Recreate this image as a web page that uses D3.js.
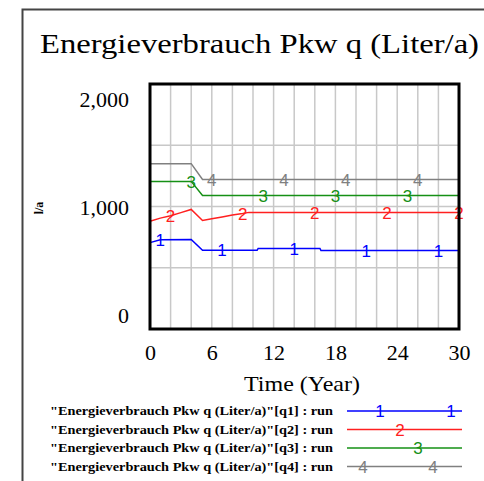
<!DOCTYPE html>
<html>
<head>
<meta charset="utf-8">
<script src="https://cdn.jsdelivr.net/npm/d3@7"></script>
<style>
  body { margin: 0; background: #fff; }
  svg { display: block; }
</style>
</head>
<body>
<div class="chart"></div>
<script>
// time breakpoints and values (l/a)
var q1Time = [0, 1, 4, 5.1, 10.4, 10.5, 16.5, 16.6, 30];
var q1Vals = [705, 728, 730, 642, 642, 658, 658, 640, 640];
var q2Time = [0, 1, 2, 3, 4, 5.1, 6, 7, 8, 9, 9.6, 30];
var q2Vals = [880, 905, 925, 950, 976, 886, 900, 915, 930, 943, 952, 952];
var q3Time = [0, 4, 5.1, 30];
var q3Vals = [1205, 1205, 1090, 1090];
var q4Time = [0, 4, 5.1, 30];
var q4Vals = [1350, 1350, 1220, 1220];

// where the series numbers sit along each line
var q1Marks = [1, 7, 14, 21, 28];
var q2Marks = [2, 9, 16, 23, 30];
var q3Marks = [4, 11, 18, 25];
var q4Marks = [6, 13, 19, 26];

var seriesNames = ["q1", "q2", "q3", "q4"];
var seriesColors = ["#0000ff", "#ff2020", "#159015", "#808080"];

var xGrid = [2, 4, 6, 8, 10, 12, 14, 16, 18, 20, 22, 24, 26, 28];
var xLabels = [0, 6, 12, 18, 24, 30];
var yGrid = [500, 1000, 1500];
var yLabels = [0, 1000, 2000];

(function () {
    var series = [
        {name: "q1", time: q1Time, vals: q1Vals, marks: q1Marks},
        {name: "q2", time: q2Time, vals: q2Vals, marks: q2Marks},
        {name: "q3", time: q3Time, vals: q3Vals, marks: q3Marks},
        {name: "q4", time: q4Time, vals: q4Vals, marks: q4Marks}
    ];

    var W = 484, H = 481;
    var pl = 150, pr = 459, pt = 84, pb = 329;
    var serif = "'Liberation Serif', 'Times New Roman', serif";
    var sans = "'Liberation Sans', Arial, sans-serif";

    var x = d3.scaleLinear().domain([0, 30]).range([pl, pr]);
    var y = d3.scaleLinear().domain([0, 2000]).range([pb, pt]);
    var color = d3.scaleOrdinal().domain(seriesNames).range(seriesColors);

    var svg = d3.select(".chart").append("svg")
        .attr("width", W)
        .attr("height", H);

    svg.append("rect").attr("width", W).attr("height", H).attr("fill", "#fff");

    // outer frame (runs off the right and bottom)
    svg.append("rect")
        .attr("x", 22.5).attr("y", 9.5)
        .attr("width", 520).attr("height", 520)
        .attr("fill", "none")
        .attr("stroke", "#444")
        .attr("stroke-width", 2);

    svg.append("text")
        .attr("x", 40).attr("y", 53)
        .attr("font-family", serif)
        .attr("font-size", 28)
        .attr("textLength", 439)
        .attr("lengthAdjust", "spacingAndGlyphs")
        .text("Energieverbrauch Pkw q (Liter/a)");

    // grid
    var grid = svg.append("g").attr("stroke", "#c8c8c8").attr("stroke-width", 1.5);
    grid.selectAll("line.vx")
        .data(xGrid).enter().append("line")
        .attr("x1", function (d) { return x(d); })
        .attr("x2", function (d) { return x(d); })
        .attr("y1", pt).attr("y2", pb);
    grid.selectAll("line.hy")
        .data(yGrid).enter().append("line")
        .attr("y1", function (d) { return y(d); })
        .attr("y2", function (d) { return y(d); })
        .attr("x1", pl).attr("x2", pr);

    // series lines
    var line = d3.line()
        .x(function (d) { return x(d[0]); })
        .y(function (d) { return y(d[1]); });

    function valueAt(s, t) {
        for (var i = 1; i < s.time.length; i++) {
            if (t <= s.time[i]) {
                var k = (t - s.time[i - 1]) / (s.time[i] - s.time[i - 1]);
                return s.vals[i - 1] + k * (s.vals[i] - s.vals[i - 1]);
            }
        }
        return s.vals[s.vals.length - 1];
    }

    series.forEach(function (s) {
        svg.append("path")
            .datum(d3.zip(s.time, s.vals))
            .attr("d", line)
            .attr("fill", "none")
            .attr("stroke", color(s.name))
            .attr("stroke-width", 1.5);
    });

    // number markers
    series.forEach(function (s, i) {
        svg.append("g").selectAll("text")
            .data(s.marks).enter().append("text")
            .attr("x", function (d) { return x(d); })
            .attr("y", function (d) { return y(valueAt(s, d)); })
            .attr("dy", "0.36em")
            .attr("text-anchor", "middle")
            .attr("font-family", sans)
            .attr("font-size", 17)
            .attr("fill", color(s.name))
            .text(i + 1);
    });

    // plot frame
    svg.append("rect")
        .attr("x", pl).attr("y", pt)
        .attr("width", pr - pl).attr("height", pb - pt)
        .attr("fill", "none")
        .attr("stroke", "#000")
        .attr("stroke-width", 3);

    // axis labels
    var xAxis = svg.append("g")
        .attr("transform", "translate(0," + (pb + 15) + ")")
        .call(d3.axisBottom(x).tickValues(xLabels).tickSize(0).tickPadding(0));
    xAxis.select(".domain").remove();
    xAxis.selectAll("text")
        .attr("font-family", serif)
        .attr("font-size", 22)
        .attr("fill", "#000");

    svg.append("g").selectAll("text")
        .data(yLabels).enter().append("text")
        .attr("x", 129)
        .attr("y", function (d) {
            if (d === 2000) return y(d) + 23;
            if (d === 0) return y(d) - 6;
            return y(d) + 8;
        })
        .attr("text-anchor", "end")
        .attr("font-family", serif)
        .attr("font-size", 22)
        .text(d3.format(","));

    svg.append("text")
        .attr("transform", "translate(43,208) rotate(-90)")
        .attr("text-anchor", "middle")
        .attr("font-family", serif)
        .attr("font-weight", "bold")
        .attr("font-size", 12)
        .text("l/a");

    svg.append("text")
        .attr("x", 302).attr("y", 391)
        .attr("text-anchor", "middle")
        .attr("font-family", serif)
        .attr("font-size", 22)
        .attr("textLength", 116)
        .attr("lengthAdjust", "spacingAndGlyphs")
        .text("Time (Year)");

    // legend
    var legendMarkX = [[380, 451], [400], [418], [363, 433]];
    var legend = svg.append("g")
        .selectAll("g")
        .data(series).enter().append("g")
        .attr("transform", function (d, i) { return "translate(0," + (411 + i * 18.5) + ")"; });

    legend.append("text")
        .attr("x", 50).attr("y", 4)
        .attr("font-family", serif)
        .attr("font-weight", "bold")
        .attr("font-size", 12)
        .attr("textLength", 283)
        .attr("lengthAdjust", "spacingAndGlyphs")
        .text(function (d) { return '"Energieverbrauch Pkw q (Liter/a)"[' + d.name + '] : run'; });

    legend.append("line")
        .attr("x1", 347).attr("x2", 462)
        .attr("stroke", function (d) { return color(d.name); })
        .attr("stroke-width", 1.5);

    legend.each(function (d, i) {
        d3.select(this).selectAll("text.mk")
            .data(legendMarkX[i]).enter().append("text")
            .attr("class", "mk")
            .attr("x", function (m) { return m; })
            .attr("dy", "0.36em")
            .attr("text-anchor", "middle")
            .attr("font-family", sans)
            .attr("font-size", 17)
            .attr("fill", color(d.name))
            .text(i + 1);
    });
})();
</script>
</body>
</html>
